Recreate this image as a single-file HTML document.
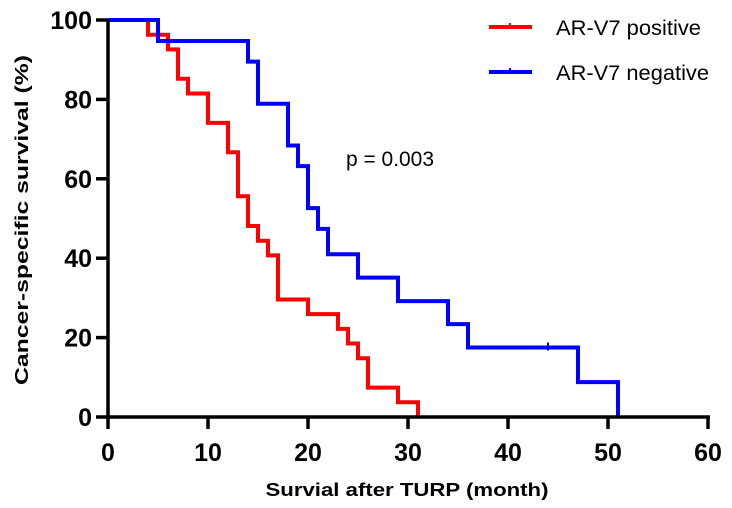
<!DOCTYPE html>
<html><head><meta charset="utf-8"><style>
body{margin:0;background:#fff;}
svg{display:block;font-family:"Liberation Sans",Arial,sans-serif;}
</style></head><body>
<svg id="chart" width="732" height="508" xmlns="http://www.w3.org/2000/svg"></svg>
<script>
const xTicks = [0,10,20,30,40,50,60];
const yTicks = [0,20,40,60,80,100];
const posTimes = [0,4,6,7,8,10,12,13,14,15,16,17,20,23,24,25,26,29,31];
const posSurv  = [100,96.3,92.6,85.2,81.5,74.1,66.7,55.6,48.1,44.4,40.7,29.6,25.9,22.2,18.5,14.8,7.4,3.7,0];
const negTimes = [0,5,14,15,18,19,20,21,22,25,29,34,36,47,51];
const negSurv  = [100,94.7,89.5,78.9,68.4,63.2,52.6,47.4,41.0,35.1,29.2,23.4,17.5,8.8,0];
const negCensorTimes = [44];
const negCensorSurv = [17.5];

const NS="http://www.w3.org/2000/svg";
const svg=document.getElementById('chart');
const X=v=>108+v*10;
const Y=v=>417-v*3.97;
function mk(tag,attrs,parent){const e=document.createElementNS(NS,tag);for(const k in attrs)e.setAttribute(k,attrs[k]);(parent||svg).appendChild(e);return e;}

function stepPath(t,s){let d=`M${X(t[0])},${Y(s[0])}`;for(let i=1;i<t.length;i++){d+=` H${X(t[i])} V${Y(s[i])}`;}return d;}

const red=mk('path',{d:stepPath(posTimes,posSurv),fill:'none',stroke:'#ff0000','stroke-width':4});


const blue=mk('path',{d:stepPath(negTimes,negSurv),fill:'none',stroke:'#0000ff','stroke-width':4});


negCensorTimes.forEach((t,i)=>{
  const c=mk('line',{x1:X(t),x2:X(t),y1:Y(negCensorSurv[i])-5,y2:Y(negCensorSurv[i])+3,stroke:'#0000ff','stroke-width':2});
  
  
});

const axes=mk('g',{stroke:'#000','stroke-width':3.5,fill:'none'});


mk('line',{x1:X(0),x2:X(0),y1:Y(100)-1,y2:Y(0)+2},axes);
mk('line',{x1:X(0)-2,x2:X(60)+2,y1:Y(0),y2:Y(0)},axes);
xTicks.forEach(v=>{
  mk('line',{x1:X(v),x2:X(v),y1:Y(0),y2:Y(0)+12},axes);
  const t=mk('text',{x:X(v),y:461,'text-anchor':'middle','font-size':25,'font-weight':'bold',fill:'#000'});
  t.textContent=v;
  
  
});
yTicks.forEach(v=>{
  mk('line',{x1:X(0)-12,x2:X(0),y1:Y(v),y2:Y(v)},axes);
  const t=mk('text',{x:92,y:Y(v)+9,'text-anchor':'end','font-size':25,'font-weight':'bold',fill:'#000'});
  t.textContent=v;
  
  
});
</script>
<svg width="732" height="508" style="position:absolute;left:0;top:0" xmlns="http://www.w3.org/2000/svg" font-family="Liberation Sans, Arial, sans-serif">
  <text x="407" y="496" text-anchor="middle" font-size="18" font-weight="bold" textLength="283" lengthAdjust="spacingAndGlyphs">Survial after TURP (month)</text>
  <text transform="translate(28,220) rotate(-90)" text-anchor="middle" font-size="18" font-weight="bold" textLength="330" lengthAdjust="spacingAndGlyphs">Cancer-specific survival (%)</text>
  <text x="346" y="166" font-size="21" textLength="88" lengthAdjust="spacingAndGlyphs">p = 0.003</text>
  <g>
    <line x1="489" x2="532" y1="27" y2="27" stroke="#ff0000" stroke-width="4"/>
    <line x1="510" x2="510" y1="23" y2="28" stroke="#ff0000" stroke-width="2"/>
    <text x="556" y="35" font-size="21" textLength="145" lengthAdjust="spacingAndGlyphs">AR-V7 positive</text>
    <line x1="489" x2="532" y1="72" y2="72" stroke="#0000ff" stroke-width="4"/>
    <line x1="510" x2="510" y1="68" y2="73" stroke="#0000ff" stroke-width="2"/>
    <text x="556" y="80" font-size="21" textLength="153" lengthAdjust="spacingAndGlyphs">AR-V7 negative</text>
  </g>
</svg>
</body></html>
